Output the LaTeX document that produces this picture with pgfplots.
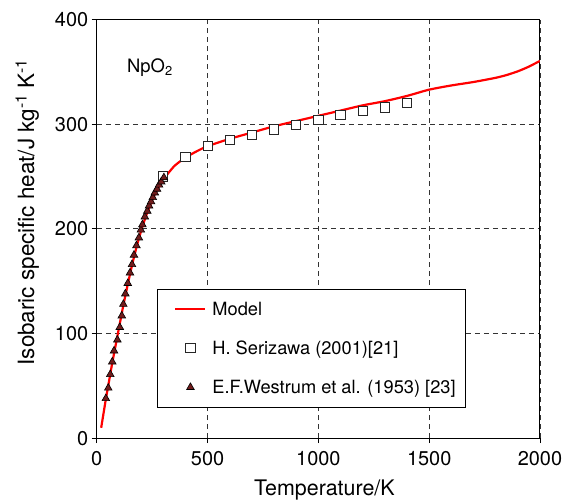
\documentclass[border=0pt]{standalone}
\usepackage{fontspec}
\setmainfont{TeX Gyre Heros}
\usepackage{pgfplots}
\usepackage{pgfplotstable}
\pgfplotsset{compat=1.18}

\definecolor{westrum}{HTML}{701C1C}

% model curve
\pgfplotstableread{
T cp
20 10
30 23
40 36
50 48
60 60
70 72
80 83
100 105
120 127
140 147
160 166
180 183
200 198
220 211
240 222
260 232
280 240
300 247
350 260
400 268
450 274
500 279
600 286
700 292
800 298
900 303
1000 308
1100 313
1200 318
1300 322
1400 327
1500 333
1600 337
1700 340.3
1800 344.3
1850 347
1900 350.5
1950 355
2000 360.5
}\model

% H. Serizawa (2001)
\pgfplotstableread{
T cp
300 250
400 269
500 279
600 285
700 290
800 295
900 299.5
1000 304
1100 309
1200 312.5
1300 316
1400 320
}\serizawa

% E.F. Westrum et al. (1953)
\pgfplotstableread{
T cp
41 38
52 48
61 61
70 73
78 83.5
93 94
104 106
113 117
120 128
129 138
140 148
150 158
159 166
168 175
179 184
190 191.5
199 199
206 204
217 211.5
228 217
236 222
245 226
253 230
262 234.5
272 238
281 242
291 245
303 249
}\westrum

\pgfplotsset{
  linelegend/.style={legend image code/.code={\path[draw=none, fill=none] (0bp,0bp) -- (45bp,0bp);
    \draw[##1] (10bp,0bp) -- (40bp,0bp);}},
  marklegend/.style={legend image code/.code={\path[draw=none, fill=none] (0bp,0bp) -- (45bp,0bp);
    \draw[##1] plot coordinates {(25bp,0bp)};}},
}

\begin{document}
\begin{tikzpicture}
% frame of the page: the axis box sits with its lower left corner at the origin
\useasboundingbox (-96.7bp,-62bp) rectangle (468bp,438bp);
\begin{axis}[
  scale only axis, width=443bp, height=418.5bp,
  xmin=0, xmax=2000, ymin=0, ymax=400,
  xtick={0,500,1000,1500,2000}, ytick={0,100,200,300,400},
  tick align=outside, xtick pos=bottom, ytick pos=left, major tick length=5bp,
  axis line style={line width=1bp, black}, every tick/.style={black, line width=0.8bp},
  grid=major, major grid style={black!80, line width=0.8bp, dash pattern=on 5bp off 4bp},
  /pgf/number format/assume math mode=true,
  scaled ticks=false,
  tick label style={font=\fontsize{20}{24}\selectfont},
  xticklabel style={/pgf/number format/1000 sep={}, yshift=-5bp},
  xlabel={Temperature/K},
  ylabel={Isobaric specific heat/J kg\textsuperscript{-1} K\textsuperscript{-1}},
  xlabel style={font=\fontsize{21.5}{25}\selectfont, xshift=6bp, yshift=-6.5bp},
  ylabel style={font=\fontsize{22.5}{26}\selectfont, at={(ticklabel cs:0.54)}, yshift=9bp},
  legend cell align=left,
  legend style={at={(0.136,0.072)}, anchor=south west, draw=black, line width=0.8bp,
    font=\fontsize{18.3}{22}\selectfont, row sep=20bp, inner xsep=8bp, inner ysep=11bp},
]
\addplot[red, line width=2.2bp, smooth, tension=0.4, linelegend]
  table[x=T, y=cp] {\model};
\addlegendentry{Model}
\addplot[only marks, mark=square*, mark size=4.6bp,
  mark options={fill=white, draw=black!85, line width=0.9bp}, marklegend]
  table[x=T, y=cp] {\serizawa};
\addlegendentry{H. Serizawa (2001)[21]}
\addplot[only marks, mark=triangle*, mark size=4.4bp,
  mark options={fill=westrum, draw=black, line width=0.6bp}, marklegend]
  table[x=T, y=cp] {\westrum};
\addlegendentry{E.F.Westrum et al. (1953) [23]}
\node[font=\fontsize{18.5}{22}\selectfont] at (axis cs:240,354) {NpO\textsubscript{2}};
\end{axis}
\end{tikzpicture}
\end{document}
